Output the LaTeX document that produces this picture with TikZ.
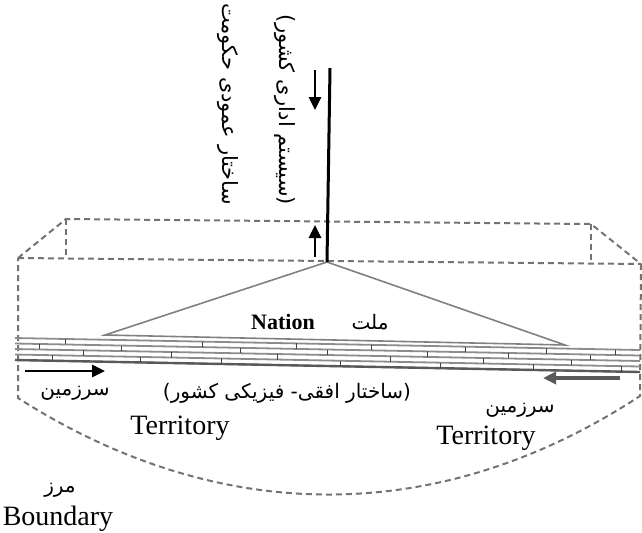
\documentclass[tikz,border=0pt]{standalone}
\usepackage{fontspec}
\setmainfont{Liberation Serif}
\newfontfamily\persianfont[Script=Arabic]{DejaVu Sans}
\TeXXeTstate=1
\usetikzlibrary{arrows.meta,calc}
\tikzset{
  frame/.style={draw=black!55,line width=1pt,dash pattern=on 3pt off 2pt},
  layer/.style={draw=black!45,line width=0.9pt},
  brick/.style={draw=black!75,line width=0.5pt},
  nationline/.style={draw=black!50,line width=0.8pt},
  flowarrow/.style={-{Triangle[length=6.5pt,width=6pt]},line width=1.4pt},
  fa/.style={font=\persianfont\fontsize{10}{12}\selectfont,inner sep=1pt},
  en/.style={font=\fontsize{14}{16}\selectfont,inner sep=1pt}
}
\begin{document}
\begin{tikzpicture}[x=0.5pt,y=-0.5pt]
  \useasboundingbox (0,0) rectangle (642,532);
  % prism of the state
  \coordinate (bl) at (66,219);
  \coordinate (br) at (591,224);
  \coordinate (fl) at (18,258);
  \coordinate (fr) at (641,264);
  \coordinate (blf) at (66,258);
  \coordinate (brf) at (591,263);
  \coordinate (lowl) at (18,398);
  \coordinate (lowr) at (640,396);
  \coordinate (apex) at (327,262);
  \coordinate (top) at (330,68);
  \coordinate (nl) at (105,335);
  \coordinate (nr) at (565,345);
  \draw[frame] (fl) -- (bl) -- (br) -- (fr);
  \draw[frame] (fl) -- (fr);
  \draw[frame] (bl) -- (blf);
  \draw[frame] (br) -- (brf);
  \draw[frame] (fr) -- (lowr) .. controls (440,527) and (220,527) .. (lowl) -- (fl);
  % nation
  \draw[nationline] (nl) -- (apex) -- (nr) -- cycle;
  % vertical structure
  \draw[line width=1.5pt] (apex) -- (top);
  \coordinate (d1) at (315,70);
  \coordinate (d2) at (315,110);
  \coordinate (u1) at (315,257);
  \coordinate (u2) at (315,225);
  \draw[flowarrow] (d1) -- (d2);
  \draw[flowarrow] (u1) -- (u2);
  % territory layers
  \foreach \k/\yl/\yr in {0/338/350,1/343.5/355.5,2/349/361,3/354.5/366.5,4/360/372}{
    \coordinate (sl\k) at (15,\yl);
    \coordinate (sr\k) at (640,\yr);
    \draw[layer] (sl\k) -- (sr\k);
  }
  \draw[draw=black!65,line width=1.2pt] (sl4) -- (sr4);
  \foreach \t in {.08,.3,.45,.57,.72,.85,.96}
    \draw[brick] ($(sl0)!\t!(sr0)$) -- ($(sl1)!\t!(sr1)$);
  \foreach \t in {.04,.17,.36,.5,.66,.79,.92}
    \draw[brick] ($(sl1)!\t!(sr1)$) -- ($(sl2)!\t!(sr2)$);
  \foreach \t in {.11,.25,.42,.6,.75,.89}
    \draw[brick] ($(sl2)!\t!(sr2)$) -- ($(sl3)!\t!(sr3)$);
  \foreach \t in {.06,.2,.33,.52,.68,.83,.97}
    \draw[brick] ($(sl3)!\t!(sr3)$) -- ($(sl4)!\t!(sr4)$);
  \coordinate (a1) at (25,371);
  \coordinate (a2) at (105,371);
  \coordinate (b1) at (620,378);
  \coordinate (b2) at (543,378);
  \draw[flowarrow] (a1) -- (a2);
  \draw[flowarrow,draw=black!65,fill=black!65,line width=1.8pt] (b1) -- (b2);
  % labels
  \node[fa,font=\persianfont\fontsize{10.5}{12}\selectfont,rotate=-90] (vert) at (228,104) {\beginR ساختار عمودی حکومت\endR};
  \node[fa,font=\persianfont\fontsize{10.5}{12}\selectfont,rotate=-90] (admin) at (285,110) {\beginR (سیستم اداری کشور)\endR};
  \node[en,font=\fontsize{11}{13}\selectfont\bfseries] (nation) at (283,322) {Nation};
  \node[fa] (mellat) at (370,322) {\beginR ملت\endR};
  \node[fa] (terfa1) at (75,393) {\beginR سرزمین\endR};
  \node[fa] (horiz) at (287,393) {\beginR (ساختار افقی- فیزیکی کشور)\endR};
  \node[fa] (terfa2) at (520,410) {\beginR سرزمین\endR};
  \node[en] (teren1) at (180,428) {Territory};
  \node[en] (teren2) at (486,438) {Territory};
  \node[fa] (marz) at (60,490) {\beginR مرز\endR};
  \node[en] (boundary) at (58,519) {Boundary};
\end{tikzpicture}
\end{document}
